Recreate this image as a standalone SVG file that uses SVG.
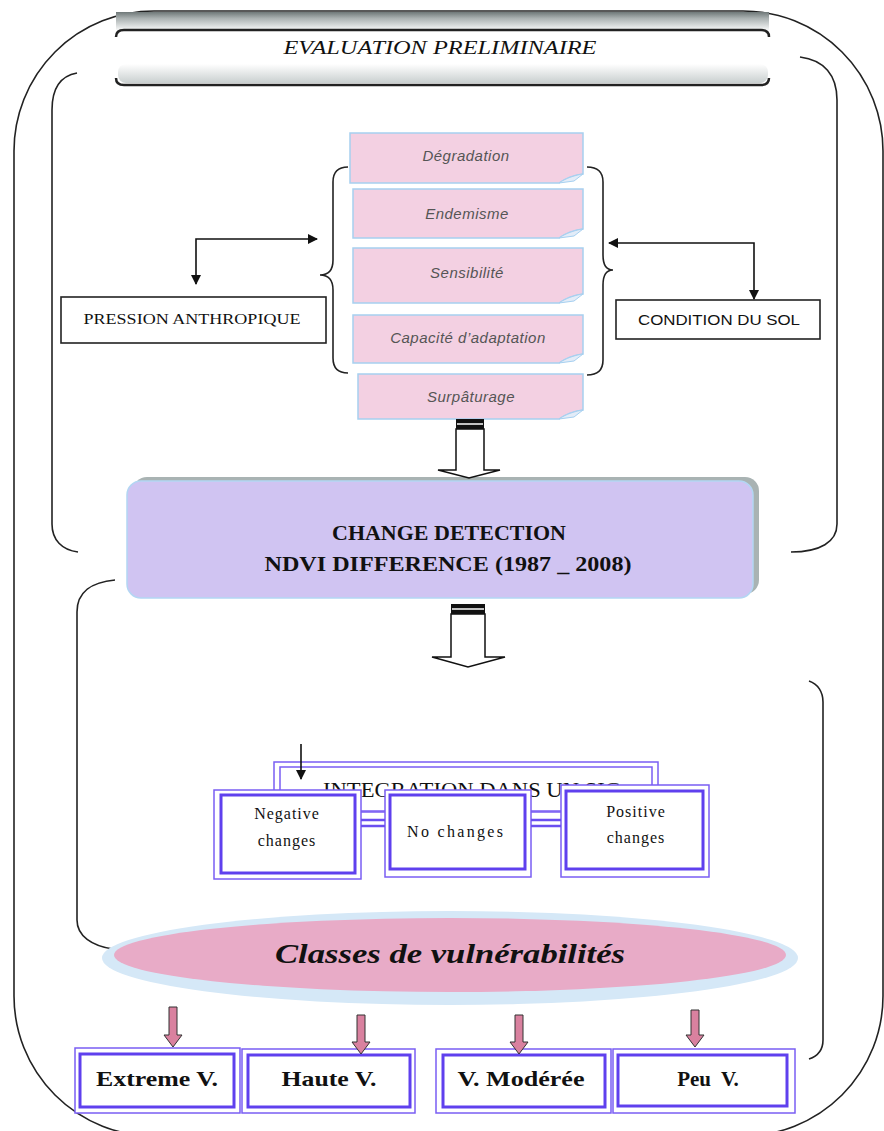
<svg xmlns="http://www.w3.org/2000/svg" width="884" height="1131" viewBox="0 0 884 1131">
  <defs>
    <style>
      .frame { fill: none; stroke: #222; stroke-width: 1.6; }
      .card { fill: #f3d0e2; stroke: #a6d0f0; stroke-width: 1.5; }
      .curl { fill: #e3ecf8; stroke: #a6d0f0; stroke-width: 1; }
      .card-text { font-family: "Liberation Sans", Arial, sans-serif; font-style: italic; font-size: 15px; fill: #555; text-anchor: middle; letter-spacing: 0.5px; }
      .plain-box { fill: #fff; stroke: #222; stroke-width: 1.6; }
      .line { fill: none; stroke: #111; stroke-width: 1.6; }
      .outer-p { fill: #fff; stroke: #7a5ef3; stroke-width: 1.5; }
      .inner-p { fill: #fff; stroke: #5f40ee; stroke-width: 3; }
      .serif { font-family: "Liberation Serif", "Times New Roman", serif; fill: #111; }
      .bold-serif { font-family: "Liberation Serif", "Times New Roman", serif; font-weight: bold; fill: #111; text-anchor: middle; }
      .hollow { fill: #fff; stroke: #111; stroke-width: 1.5; }
      .pink-arrow { fill: #d9819f; stroke: #333; stroke-width: 1; }
      .link { stroke: #6a4ef0; stroke-width: 2.5; fill: none; }
    </style>
    <marker id="head" viewBox="0 0 10 10" refX="9" refY="5" markerUnits="userSpaceOnUse" markerWidth="10" markerHeight="10" orient="auto-start-reverse">
      <path d="M0,0 L10,5 L0,10 Z" fill="#111"/>
    </marker>
    <linearGradient id="bannerTop" x1="0" y1="0" x2="0" y2="1">
      <stop offset="0" stop-color="#6f7878"/>
      <stop offset="0.35" stop-color="#aab1b1"/>
      <stop offset="1" stop-color="#f7f8f8"/>
    </linearGradient>
    <linearGradient id="bannerBottom" x1="0" y1="0" x2="0" y2="1">
      <stop offset="0" stop-color="#ffffff"/>
      <stop offset="1" stop-color="#c9cfcf"/>
    </linearGradient>
  </defs>

  <rect width="884" height="1131" fill="#fff"/>

  <!-- outer frame and section brackets -->
  <g id="frames">
    <rect class="frame" x="14" y="11" width="869" height="1125" rx="140" ry="140"/>
    <path class="frame" d="M 77 73 C 60 76 52 88 52 110 L 52 524 C 52 540 62 550 78 552"/>
    <path class="frame" d="M 800 57 C 824 60 837 75 837 100 L 837 524 C 837 542 820 552 791 552"/>
    <path class="frame" d="M 115 580 C 92 582 77 592 77 612 L 77 920 C 77 936 92 946 113 949"/>
    <path class="frame" d="M 809 681 C 818 684 823 692 823 702 L 823 1040 C 823 1050 818 1056 809 1059"/>
    <path class="frame" d="M 348 167 C 338 167 333 172 333 182 L 333 260 C 333 270 328 275 320 275 C 328 275 333 280 333 290 L 333 358 C 333 368 338 373 348 373"/>
    <path class="frame" d="M 587 167 C 597 167 603 172 603 182 L 603 255 C 603 265 607 270 613 270 C 607 270 603 275 603 285 L 603 360 C 603 370 597 375 587 375"/>
  </g>

  <!-- title banner -->
  <g id="banner">
    <rect x="116" y="12" width="653" height="18" fill="url(#bannerTop)"/>
    <rect x="118" y="64" width="650" height="19" rx="8" fill="url(#bannerBottom)"/>
    <path d="M 116 37 Q 116 30 124 30 H 761 Q 769 30 769 37" fill="none" stroke="#222" stroke-width="2.5"/>
    <path d="M 116 78 Q 116 85 124 85 H 761 Q 769 85 769 78" fill="none" stroke="#222" stroke-width="2.5"/>
    <text x="440" y="54" class="serif" font-style="italic" font-size="19" text-anchor="middle" textLength="313" lengthAdjust="spacingAndGlyphs">EVALUATION PRELIMINAIRE</text>
  </g>

  <!-- factor cards -->
  <g id="degradation">
    <path class="card" d="M 350 133 H 583 V 174 C 576 175 566 178 559 183 H 350 Z"/>
    <path class="curl" d="M 559 183 C 566 178 576 175 583 174 L 574 181 Z"/>
    <text class="card-text" x="466" y="161">Dégradation</text>
  </g>
  <g id="endemisme">
    <path class="card" d="M 353 189 H 583 V 229 C 576 230 566 233 559 238 H 353 Z"/>
    <path class="curl" d="M 559 238 C 566 233 576 230 583 229 L 574 236 Z"/>
    <text class="card-text" x="467" y="219">Endemisme</text>
  </g>
  <g id="sensibilite">
    <path class="card" d="M 353 248 H 583 V 294 C 576 295 566 298 559 303 H 353 Z"/>
    <path class="curl" d="M 559 303 C 566 298 576 295 583 294 L 574 301 Z"/>
    <text class="card-text" x="467" y="278">Sensibilité</text>
  </g>
  <g id="capacite">
    <path class="card" d="M 353 315 H 583 V 354 C 576 355 566 358 559 363 H 353 Z"/>
    <path class="curl" d="M 559 363 C 566 358 576 355 583 354 L 574 361 Z"/>
    <text class="card-text" x="468" y="343">Capacité d’adaptation</text>
  </g>
  <g id="surpaturage">
    <path class="card" d="M 358 374 H 583 V 410 C 576 411 566 414 559 419 H 358 Z"/>
    <path class="curl" d="M 559 419 C 566 414 576 411 583 410 L 574 417 Z"/>
    <text class="card-text" x="471" y="402">Surpâturage</text>
  </g>

  <!-- side factors -->
  <g id="pression">
    <rect class="plain-box" x="61" y="297" width="265" height="46"/>
    <text class="serif" x="192" y="324" font-size="15" text-anchor="middle" textLength="217" lengthAdjust="spacingAndGlyphs">PRESSION ANTHROPIQUE</text>
  </g>
  <g id="condition-sol">
    <rect class="plain-box" x="616" y="300" width="204" height="39"/>
    <text x="719" y="325" font-family="Liberation Sans, Arial, sans-serif" font-size="15" fill="#111" text-anchor="middle" textLength="162" lengthAdjust="spacingAndGlyphs">CONDITION DU SOL</text>
  </g>

  <!-- change detection -->
  <g id="change-detection">
    <rect x="133" y="477" width="626" height="117" rx="14" fill="#a9b3b3"/>
    <rect x="127" y="481" width="626" height="117" rx="14" fill="#d0c4f2" stroke="#b3d6f3" stroke-width="1.5"/>
    <text class="bold-serif" x="449" y="540" font-size="21" textLength="234" lengthAdjust="spacingAndGlyphs">CHANGE DETECTION</text>
    <text class="bold-serif" x="448" y="571" font-size="21" textLength="367" lengthAdjust="spacingAndGlyphs">NDVI DIFFERENCE (1987 _ 2008)</text>
  </g>

  <!-- GIS integration -->
  <g id="integration">
    <rect x="274" y="762" width="384" height="50" fill="#fff" stroke="#7a5ef3" stroke-width="1.5"/>
    <rect x="280" y="767" width="372" height="44" fill="#fff" stroke="#7a5ef3" stroke-width="1.5"/>
    <text class="serif" x="472" y="797" font-size="22" text-anchor="middle" textLength="298" lengthAdjust="spacingAndGlyphs">INTEGRATION DANS UN SIG</text>
  </g>
  <g id="negative-changes">
    <rect class="outer-p" x="214" y="790" width="147" height="89"/>
    <rect class="inner-p" x="221" y="795" width="134" height="78"/>
    <text class="serif" x="287" y="819" font-size="16" text-anchor="middle" letter-spacing="1">Negative</text>
    <text class="serif" x="287" y="846" font-size="16" text-anchor="middle" letter-spacing="1">changes</text>
  </g>
  <g id="no-changes">
    <rect class="outer-p" x="385" y="790" width="146" height="87"/>
    <rect class="inner-p" x="390" y="795" width="135" height="74"/>
    <text class="serif" x="455" y="837" font-size="16" text-anchor="middle" textLength="96" lengthAdjust="spacing">No changes</text>
  </g>
  <g id="positive-changes">
    <rect class="outer-p" x="561" y="785" width="148" height="92"/>
    <rect class="inner-p" x="566" y="791" width="137" height="78"/>
    <text class="serif" x="636" y="817" font-size="16" text-anchor="middle" letter-spacing="1">Positive</text>
    <text class="serif" x="636" y="843" font-size="16" text-anchor="middle" letter-spacing="1">changes</text>
  </g>

  <!-- vulnerability classes -->
  <g id="classes">
    <ellipse cx="450" cy="958" rx="348" ry="47" fill="#d5e8f7"/>
    <ellipse cx="450" cy="955" rx="336" ry="37" fill="#e8abc7"/>
    <text class="bold-serif" x="450" y="963" font-size="28" font-style="italic" textLength="350" lengthAdjust="spacingAndGlyphs">Classes de vulnérabilités</text>
  </g>
  <g id="extreme-v">
    <rect class="outer-p" x="75" y="1048" width="165" height="65"/>
    <rect class="inner-p" x="80" y="1054" width="154" height="53"/>
    <text class="bold-serif" x="157" y="1086" font-size="21" textLength="122" lengthAdjust="spacingAndGlyphs">Extreme V.</text>
  </g>
  <g id="haute-v">
    <rect class="outer-p" x="242" y="1049" width="173" height="64"/>
    <rect class="inner-p" x="248" y="1055" width="162" height="52"/>
    <text class="bold-serif" x="329" y="1086" font-size="21" textLength="95" lengthAdjust="spacingAndGlyphs">Haute V.</text>
  </g>
  <g id="v-moderee">
    <rect class="outer-p" x="436" y="1049" width="175" height="64"/>
    <rect class="inner-p" x="443" y="1055" width="162" height="52"/>
    <text class="bold-serif" x="521" y="1086" font-size="21" textLength="127" lengthAdjust="spacingAndGlyphs">V. Modérée</text>
  </g>
  <g id="peu-v">
    <rect class="outer-p" x="613" y="1049" width="182" height="64"/>
    <rect class="inner-p" x="618" y="1055" width="169" height="51"/>
    <text class="bold-serif" x="708" y="1086" font-size="21" xml:space="preserve">Peu  V.</text>
  </g>

  <!-- connectors -->
  <g id="connectors">
    <path class="line" d="M 196 284 L 196 239 L 317 239" marker-start="url(#head)" marker-end="url(#head)"/>
    <path class="line" d="M 609 243 L 754 243 L 754 299" marker-start="url(#head)" marker-end="url(#head)"/>
    <path class="line" d="M 301 744 L 301 779" marker-end="url(#head)"/>

    <!-- hollow block arrows -->
    <path class="hollow" d="M 456 429 L 456 470 L 438 470 L 469 478 L 500 470 L 484 470 L 484 429 Z"/>
    <rect x="456" y="419" width="28" height="10" fill="#111"/>
    <line x1="457" y1="424" x2="483" y2="424" stroke="#fff" stroke-width="1.5"/>
    <path class="hollow" d="M 451 614 L 451 657 L 432 657 L 468 667 L 505 657 L 485 657 L 485 614 Z"/>
    <rect x="451" y="604" width="34" height="10" fill="#111"/>
    <line x1="452" y1="609" x2="484" y2="609" stroke="#fff" stroke-width="1.5"/>

    <!-- double links between change classes -->
    <line class="link" x1="361" y1="820" x2="385" y2="820"/>
    <line class="link" x1="361" y1="826" x2="385" y2="826"/>
    <line class="link" x1="531" y1="820" x2="561" y2="820"/>
    <line class="link" x1="531" y1="826" x2="561" y2="826"/>

    <!-- arrows to vulnerability levels -->
    <path class="pink-arrow" d="M 169 1007 H 177 V 1035 H 182 L 173 1047 L 164 1035 H 169 Z"/>
    <path class="pink-arrow" d="M 357 1015 H 365 V 1042 H 370 L 361 1054 L 352 1042 H 357 Z"/>
    <path class="pink-arrow" d="M 515 1015 H 523 V 1042 H 528 L 519 1054 L 510 1042 H 515 Z"/>
    <path class="pink-arrow" d="M 691 1010 H 699 V 1035 H 704 L 695 1047 L 686 1035 H 691 Z"/>
  </g>
</svg>
